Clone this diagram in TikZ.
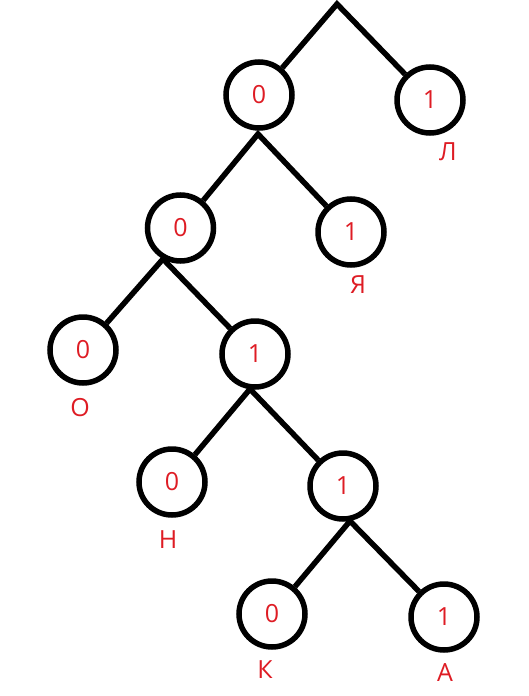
\documentclass[tikz,border=0pt]{standalone}
\usepackage{fontspec}
\setmainfont{Open Sans}
\definecolor{lbl}{RGB}{222,28,36}
\begin{document}
\begin{tikzpicture}[x=1pt,y=-1pt,
  bit/.style={circle,draw=black,line width=5.5pt,minimum size=66pt,inner sep=0pt,text=lbl,font=\fontsize{25}{25}\selectfont},
  letter/.style={text=lbl,font=\fontsize{25}{25}\selectfont,inner sep=0pt},
  edge/.style={line width=5.5pt,line join=miter}]
\useasboundingbox (0,0) rectangle (528,696);
\node[bit] (a) at (259,95) {0};
\node[bit] (b) at (430,100) {1};
\node[bit] (c) at (180.5,228) {0};
\node[bit] (d) at (351,232) {1};
\node[bit] (e) at (83,350) {0};
\node[bit] (f) at (255,354) {1};
\node[bit] (g) at (172,482) {0};
\node[bit] (h) at (343,486) {1};
\node[bit] (i) at (272,614) {0};
\node[bit] (j) at (444,617) {1};
\node[letter] (lb) at (448,152) {Л};
\node[letter] (ld) at (358,285) {Я};
\node[letter] (le) at (80,408) {О};
\node[letter] (lg) at (168,540) {Н};
\node[letter] (li) at (265,670) {К};
\node[letter] (lj) at (445,673) {А};
\coordinate (top) at (337,4);
\coordinate (ja) at (258,134);
\coordinate (jc) at (163,259);
\coordinate (jf) at (250,389);
\coordinate (jh) at (350,521);
\draw[edge] (a) -- (top) -- (b);
\draw[edge] (c) -- (ja) -- (d);
\draw[edge] (e) -- (jc) -- (f);
\draw[edge] (g) -- (jf) -- (h);
\draw[edge] (i) -- (jh) -- (j);
\end{tikzpicture}
\end{document}
